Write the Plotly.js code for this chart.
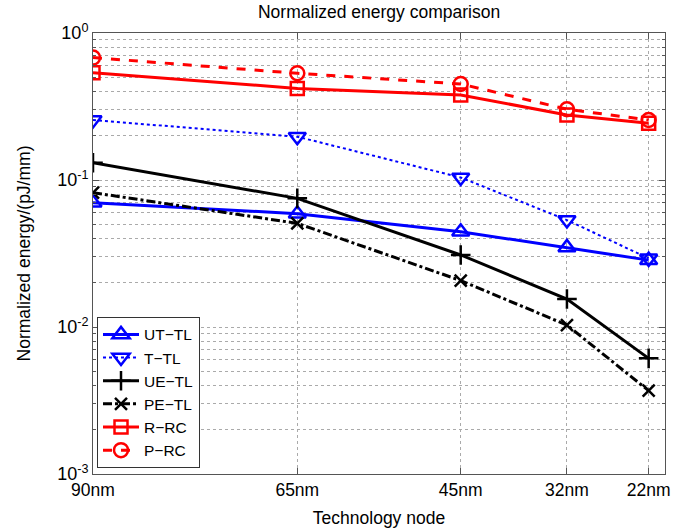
<!DOCTYPE html>
<html>
<head>
<meta charset="utf-8">
<script src="https://cdn.plot.ly/plotly-3.0.1.min.js"></script>
<style>html,body{margin:0;padding:0;background:#fff;}#chart{width:688px;height:529px;}</style>
</head>
<body>
<div id="chart"></div>
<script>
const nodes = [90, 65, 45, 32, 22];
const nodeLabels = ["90nm", "65nm", "45nm", "32nm", "22nm"];
const utTL = [0.070, 0.059, 0.0445, 0.0348, 0.0285];
const tTL  = [0.256, 0.197, 0.104, 0.0534, 0.0293];
const ueTL = [0.131, 0.075, 0.0309, 0.0155, 0.00612];
const peTL = [0.082, 0.0507, 0.0207, 0.0103, 0.00369];
const rRC  = [0.537, 0.42, 0.379, 0.277, 0.243];
const pRC  = [0.68, 0.532, 0.45, 0.303, 0.256];
const yTickVals = [0.001, 0.01, 0.1, 1];
const yTickText = ["10<sup>-3</sup>", "10<sup>-2</sup>", "10<sup>-1</sup>", "10<sup>0</sup>"];

const minorVals = [];
for (let e = -3; e < 0; e++) for (let m = 2; m <= 9; m++) minorVals.push(m * Math.pow(10, e));

function tr(name, y, color, dash, width, symbol, size) {
  return {
    x: nodes, y: y, name: name, type: 'scatter', mode: 'lines+markers',
    line: {color: color, dash: dash, width: width},
    marker: {symbol: symbol, size: size, color: color, line: {color: color, width: 2.5}}
  };
}
const data = [
  tr('UT\u2212TL', utTL, '#0000ff', 'solid', 3, 'triangle-up-open', 15),
  tr('T\u2212TL', tTL, '#0000ff', 'dot', 2, 'triangle-down-open', 15),
  tr('UE\u2212TL', ueTL, '#000000', 'solid', 3, 'cross-thin-open', 14),
  tr('PE\u2212TL', peTL, '#000000', 'dashdot', 3, 'x-thin-open', 12),
  tr('R\u2212RC', rRC, '#ff0000', 'solid', 3, 'square-open', 13),
  tr('P\u2212RC', pRC, '#ff0000', 'dash', 3, 'circle-open', 14)
];
const font = {family: 'Liberation Sans, Arial, sans-serif', color: '#000'};
const layout = {
  width: 688, height: 529,
  margin: {l: 93, r: 23, t: 33, b: 55},
  paper_bgcolor: '#fff', plot_bgcolor: '#fff',
  font: Object.assign({size: 17}, font),
  showlegend: true,
  title: {text: 'Normalized energy comparison', font: Object.assign({size: 17.5}, font), x: 0.551, xanchor: 'center', y: 0.99, yanchor: 'top'},
  xaxis: {
    range: [90, 20], tickvals: nodes, ticktext: nodeLabels, tickmode: 'array',
    showgrid: true, gridcolor: '#aaa', griddash: 'dot', gridwidth: 1,
    ticks: 'inside', ticklen: 6, tickcolor: '#555', mirror: 'ticks',
    showline: true, linecolor: '#555', linewidth: 1, zeroline: false,
    tickfont: Object.assign({size: 17.5}, font),
    title: {text: 'Technology node', font: Object.assign({size: 17.5}, font), standoff: 12}
  },
  yaxis: {
    type: 'log', range: [-3, 0], tickmode: 'array', tickvals: yTickVals, ticktext: yTickText,
    showgrid: true, gridcolor: '#aaa', griddash: 'dot', gridwidth: 1,
    ticks: 'inside', ticklen: 6, tickcolor: '#555', mirror: 'ticks',
    showline: true, linecolor: '#555', linewidth: 1, zeroline: false,
    tickfont: Object.assign({size: 18}, font),
    minor: {tickmode: 'array', tickvals: minorVals, ticks: 'inside', ticklen: 3, tickcolor: '#555', showgrid: true, gridcolor: '#aaa', griddash: 'dot', gridwidth: 1},
    title: {text: 'Normalized energy/(pJ/mm)', font: Object.assign({size: 17.5}, font), standoff: 22}
  },
  legend: {
    x: 0.007, y: 0.014, xanchor: 'left', yanchor: 'bottom',
    bgcolor: '#fff', bordercolor: '#333', borderwidth: 1,
    font: Object.assign({size: 15.5}, font), tracegroupgap: 0, itemwidth: 36
  }
};
Plotly.newPlot('chart', data, layout, {displayModeBar: false, staticPlot: true});
</script>
</body>
</html>
